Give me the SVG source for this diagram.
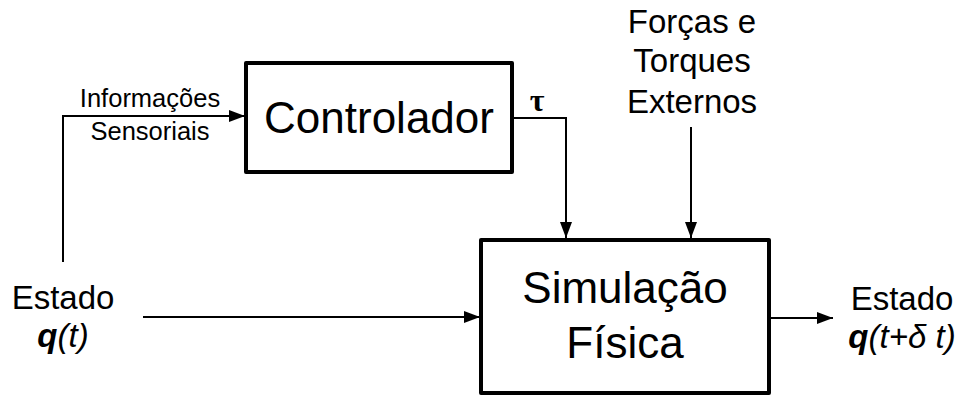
<svg xmlns="http://www.w3.org/2000/svg" width="960" height="396" viewBox="0 0 960 396">
  <style>
    .box { fill: #ffffff; stroke: #000000; stroke-width: 4; stroke-linejoin: round; }
    .wire { fill: none; stroke: #000000; stroke-width: 2; }
    .t { font-family: "Liberation Sans", Arial, sans-serif; fill: #000000; text-anchor: middle; }
    .big { font-size: 44px; }
    .mid { font-size: 33px; }
    .small { font-size: 25.5px; }
    .tau { font-family: "Liberation Serif", "Times New Roman", serif; font-weight: bold; font-size: 32px; text-anchor: middle; }
  </style>
  <defs>
    <marker id="arrow" markerUnits="userSpaceOnUse" markerWidth="16" markerHeight="12" refX="16" refY="6" orient="auto">
      <path d="M0,0 L16,6 L0,12 z" fill="#000000"/>
    </marker>
  </defs>

  <rect width="960" height="396" fill="#ffffff"/>

  <!-- connectors -->
  <g id="connectors">
    <polyline class="wire" points="63,262 63,116 245,116" marker-end="url(#arrow)"/>
    <polyline class="wire" points="512,118 566,118 566,238" marker-end="url(#arrow)"/>
    <line class="wire" x1="691" y1="127" x2="691" y2="238" marker-end="url(#arrow)"/>
    <line class="wire" x1="143" y1="317" x2="480" y2="317" marker-end="url(#arrow)"/>
    <line class="wire" x1="770" y1="318" x2="833" y2="318" marker-end="url(#arrow)"/>
  </g>

  <!-- controller block -->
  <g id="controlador">
    <rect class="box" x="246" y="63" width="266" height="109"/>
    <text class="t big" x="379" y="133">Controlador</text>
  </g>

  <!-- physics simulation block -->
  <g id="simulacao">
    <rect class="box" x="481" y="240" width="288" height="153"/>
    <text class="t big" x="625" y="303">Simulação</text>
    <text class="t big" x="625" y="358">Física</text>
  </g>

  <!-- labels -->
  <g id="sensores">
    <text class="t small" x="150" y="107">Informações</text>
    <text class="t small" x="150" y="140">Sensoriais</text>
  </g>

  <g id="torque">
    <text class="tau" x="537" y="111">τ</text>
  </g>

  <g id="externos">
    <text class="t mid" x="692" y="33">Forças e</text>
    <text class="t mid" x="692" y="72">Torques</text>
    <text class="t mid" x="692" y="113">Externos</text>
  </g>

  <g id="estado-entrada">
    <text class="t mid" x="63" y="309">Estado</text>
    <text class="t mid" x="63" y="347" font-style="italic"><tspan font-weight="bold">q</tspan>(t)</text>
  </g>

  <g id="estado-saida">
    <text class="t mid" x="902" y="310">Estado</text>
    <text class="t mid" x="902" y="348" font-style="italic"><tspan font-weight="bold">q</tspan>(t+δ t)</text>
  </g>
</svg>
